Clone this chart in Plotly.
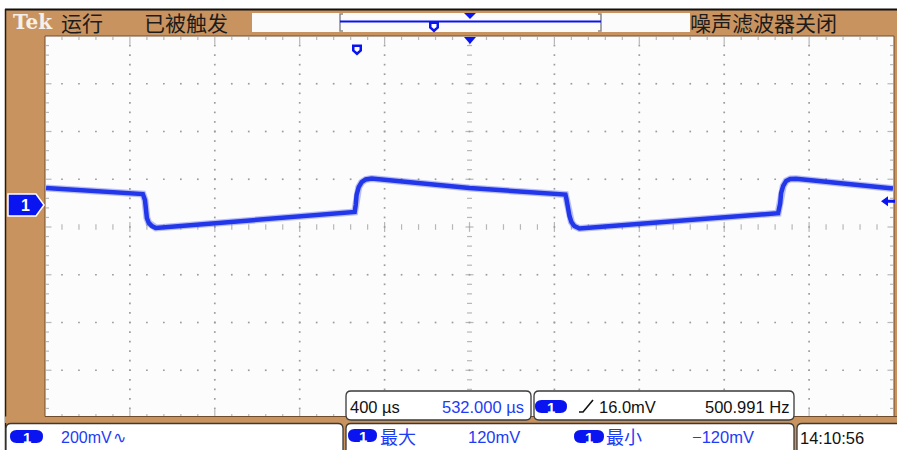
import numpy as np
import plotly.graph_objects as go

W, H = 897, 450

# ---- scope settings -------------------------------------------------------
T_PER_DIV_US = 400          # horizontal scale
V_PER_DIV_MV = 200          # CH1 vertical scale
CH1_POSITION_DIV = 0.46     # CH1 ground level above screen centre
TRIGGER_LEVEL_MV = 16.0

# ---- CH1 record (time relative to screen centre) ---------------------------
TIME_US = [-1995, -1544, -1539, -1529, -1525, -1520, -1511, -1496, -1478,
           -541, -536, -532, -522, -508, -489, -461, 0, 452, 456, 461, 471,
           480, 494, 518, 1454, 1464, 1468, 1478, 1492, 1511, 1539, 1995]
CH1_MV = [71, 50, 46, 21, -21, -54, -75, -88, -96,
          -29, 0, 42, 75, 96, 107, 111, 71, 44, 29, -8, -46,
          -71, -88, -98, -34, 8, 50, 80, 101, 109, 110, 69]

# ---- on-screen readouts ----------------------------------------------------
STATUS_TEXTS = ["运行", "已被触发", "噪声滤波器关闭"]
CH1_SCALE_TEXT = "200mV"
TIMEBASE_TEXT = "400 µs"
HPOS_TEXT = "532.000 µs"
TRIG_TEXT = "16.0mV"
FREQ_TEXT = "500.991 Hz"
MAX_LABEL, MAX_VALUE = "最大", "120mV"
MIN_LABEL, MIN_VALUE = "最小", "−120mV"
CLOCK_TEXT = "14:10:56"

BROWN = "#c9935f"
DARK_BROWN = "#6e4b2b"
BLUE = "#0a14f0"
TEXT_BLUE = "#1e3cf5"
TRACE_BLUE = "#2337ea"
GRID = "#9c9c9c"

# plot area in pixels
PX0, PX1, PY0, PY1 = 45, 894, 36, 418
PX_PER_DIV_X = (PX1 - PX0) / 10
PX_PER_DIV_Y = (PY1 - PY0) / 8


def X(px):
    return px / W


def Y(py):
    return 1 - py / H


def t_of(xd):
    return xd * T_PER_DIV_US


def v_of(yd):
    return (yd - CH1_POSITION_DIV) * V_PER_DIV_MV


def rrect_path(x0, y0, x1, y1, r):
    pts = [
        f"M{X(x0 + r)},{Y(y0)}", f"L{X(x1 - r)},{Y(y0)}",
        f"Q{X(x1)},{Y(y0)} {X(x1)},{Y(y0 + r)}", f"L{X(x1)},{Y(y1 - r)}",
        f"Q{X(x1)},{Y(y1)} {X(x1 - r)},{Y(y1)}", f"L{X(x0 + r)},{Y(y1)}",
        f"Q{X(x0)},{Y(y1)} {X(x0)},{Y(y1 - r)}", f"L{X(x0)},{Y(y0 + r)}",
        f"Q{X(x0)},{Y(y0)} {X(x0 + r)},{Y(y0)}", "Z",
    ]
    return " ".join(pts)


def poly_path(points, close=True):
    s = " ".join(("M" if i == 0 else "L") + f"{X(x)},{Y(y)}" for i, (x, y) in enumerate(points))
    return s + (" Z" if close else "")


shapes = []


def add_rect(x0, y0, x1, y1, fill, line=None, lw=0, layer="above"):
    shapes.append(dict(type="rect", xref="paper", yref="paper",
                       x0=X(x0), x1=X(x1), y0=Y(y1), y1=Y(y0),
                       fillcolor=fill, line=dict(color=line or fill, width=lw),
                       layer=layer))


def add_path(path, fill=None, line=None, lw=0, layer="above"):
    d = dict(type="path", xref="paper", yref="paper", path=path,
             line=dict(color=line or "rgba(0,0,0,0)", width=lw), layer=layer)
    if fill:
        d["fillcolor"] = fill
    shapes.append(d)


def add_line(x0, y0, x1, y1, color, lw, layer="above"):
    shapes.append(dict(type="line", xref="paper", yref="paper",
                       x0=X(x0), y0=Y(y0), x1=X(x1), y1=Y(y1),
                       line=dict(color=color, width=lw), layer=layer))


def position_marker(cx, top):
    # hollow "T" marker with a pointed bottom
    add_path(poly_path([(cx - 5, top), (cx + 5, top), (cx + 5, top + 6.5),
                        (cx, top + 11), (cx - 5, top + 6.5)]), fill=BLUE)
    add_path(poly_path([(cx - 2.5, top + 2.5), (cx + 2.5, top + 2.5), (cx + 2.5, top + 5.5),
                        (cx, top + 7.5), (cx - 2.5, top + 5.5)]), fill="white")


# ---- bezel / frame ----------------------------------------------------------
add_rect(5, 10, 897, 452, BROWN, layer="below")
add_rect(PX0, PY0, PX1, PY1, "#fcfcfc", DARK_BROWN, 1, layer="below")
add_line(5, 9.5, 897, 9.5, "#111111", 2)
add_line(5.5, 9, 5.5, 450, "#2a1a0a", 1.5)
add_rect(5, 416.5, 897, 423, BROWN)
add_line(PX0, 416.5, 897, 416.5, DARK_BROWN, 1)

# top status bar: record view
add_rect(252, 13, 690, 32, "#fbfbfb")
add_path(poly_path([(343, 14), (340, 14), (340, 31), (343, 31)], close=False), line="#8a8a8a", lw=1.5)
add_path(poly_path([(598, 14), (601, 14), (601, 31), (598, 31)], close=False), line="#8a8a8a", lw=1.5)
add_line(340, 21.5, 601, 21.5, BLUE, 2)
add_path(poly_path([(464, 13), (476, 13), (470, 19)]), fill=BLUE)
position_marker(434, 21.5)

# markers on the graticule
add_path(poly_path([(464, 37), (476, 37), (470, 44)]), fill=BLUE)
position_marker(357, 44.5)

# CH1 ground marker
gy = PY0 + (4 - CH1_POSITION_DIV) * PX_PER_DIV_Y
add_path(poly_path([(8, gy - 11), (36, gy - 11), (44, gy), (36, gy + 11), (8, gy + 11)]),
         fill=BLUE, line="white", lw=1.5)

# trigger level arrow on the right edge
ty = gy - TRIGGER_LEVEL_MV / V_PER_DIV_MV * PX_PER_DIV_Y
add_path(poly_path([(881, ty), (888, ty - 5), (888, ty - 1.5), (895, ty - 1.5),
                    (895, ty + 1.5), (888, ty + 1.5), (888, ty + 5)]), fill=BLUE)

# readout boxes
BOX_LINE = "#3a3a3a"
for (x0, y0, x1, y1) in [(6, 423.5, 343, 456), (346, 423.5, 794, 456),
                         (797, 423.5, 902, 456), (346, 391, 531, 420),
                         (534, 391, 794, 420)]:
    add_path(rrect_path(x0, y0, x1, y1, 5), fill="white", line=BOX_LINE, lw=1.3)

# channel pills
pills = [(10, 430, 43, 443), (348, 429, 377, 442), (574, 430, 604, 443), (535, 400, 567, 413)]
for (x0, y0, x1, y1) in pills:
    add_path(rrect_path(x0, y0, x1, y1, (y1 - y0) / 2), fill=BLUE)

# trigger slope glyph
add_path(poly_path([(579, 412), (583, 412), (593, 400)], close=False), line="#111111", lw=1.6)

# ---- annotations ----------------------------------------------------------
ann = []


def text(x, y, s, size, color, family="Liberation Sans", anchor="left", bold=False):
    ann.append(dict(x=X(x), y=Y(y), xref="paper", yref="paper", text=f"<b>{s}</b>" if bold else s,
                    showarrow=False, xanchor=anchor, yanchor="middle",
                    font=dict(size=size, color=color, family=family)))


CJK = "Noto Sans CJK SC"
text(11, 22, "Tek", 20, "#f4f0ea", family="DejaVu Serif", bold=True)
text(59, 22, STATUS_TEXTS[0], 21, "#1c1c1c", family=CJK)
text(142, 22, STATUS_TEXTS[1], 21, "#1c1c1c", family=CJK)
text(688, 22, STATUS_TEXTS[2], 21, "#1c1c1c", family=CJK)

text(25, gy, "1", 16, "white", bold=True, anchor="center")
for (x0, y0, x1, y1) in pills:
    text((x0 + x1) / 2, (y0 + y1) / 2 + 0.5, "1", 15, "white", bold=True, anchor="center")

text(59, 437, CH1_SCALE_TEXT, 16, TEXT_BLUE)
text(111, 437, "∿", 16, TEXT_BLUE, family="DejaVu Sans")
text(378, 436, MAX_LABEL, 18, TEXT_BLUE, family=CJK)
text(466, 437, MAX_VALUE, 16.5, TEXT_BLUE)
text(604, 436, MIN_LABEL, 18, TEXT_BLUE, family=CJK)
text(690, 437, MIN_VALUE, 16.5, TEXT_BLUE)
text(798, 438, CLOCK_TEXT, 16.5, "#111111")
text(348, 407, TIMEBASE_TEXT, 16.5, "#111111")
text(526, 407, HPOS_TEXT, 16.5, TEXT_BLUE, anchor="right")
text(597, 407, TRIG_TEXT, 16.5, "#111111")
text(791, 407, FREQ_TEXT, 16.5, "#111111", anchor="right")

# ---- graticule ------------------------------------------------------------
fig = go.Figure()

dots_x, dots_y = [], []
for yd in [-3, -2, -1, 1, 2, 3]:
    for j in range(1, 50):
        dots_x.append(t_of(-5 + j * 0.2))
        dots_y.append(v_of(yd))
for xd in [-4, -3, -2, -1, 1, 2, 3, 4]:
    for i in range(1, 40):
        dots_x.append(t_of(xd))
        dots_y.append(v_of(-4 + i * 0.2))
fig.add_trace(go.Scatter(x=dots_x, y=dots_y, mode="markers", hoverinfo="skip",
                         marker=dict(symbol="square", size=1.7, color=GRID)))

# vertical ticks: centre horizontal line and top / bottom edges
vt_x, vt_y, vt_s = [], [], []
for j in range(1, 50):
    xd = -5 + j * 0.2
    major = abs(xd - round(xd)) < 1e-6
    vt_x.append(t_of(xd)); vt_y.append(v_of(0)); vt_s.append(7 if major else 4)
    for edge, sgn in [(4, -1), (-4, 1)]:
        ln = 8 if major else 3.5
        vt_x.append(t_of(xd))
        vt_y.append(v_of(edge + sgn * (ln / 2 + 0.5) / PX_PER_DIV_Y))
        vt_s.append(ln / 1.4)
fig.add_trace(go.Scatter(x=vt_x, y=vt_y, mode="markers", hoverinfo="skip",
                         marker=dict(symbol="line-ns", size=vt_s,
                                     line=dict(color=GRID, width=1.2))))

# horizontal ticks: centre vertical line and left / right edges
ht_x, ht_y, ht_s = [], [], []
for i in range(1, 40):
    yd = -4 + i * 0.2
    major = abs(yd - round(yd)) < 1e-6
    ht_x.append(t_of(0)); ht_y.append(v_of(yd)); ht_s.append((8 if major else 5) / 1.4)
    for edge, sgn in [(-5, 1), (5, -1)]:
        ln = 6 if major else 3.5
        ht_x.append(t_of(edge + sgn * (ln / 2 + 0.5) / PX_PER_DIV_X))
        ht_y.append(v_of(yd))
        ht_s.append(ln / 1.4)
fig.add_trace(go.Scatter(x=ht_x, y=ht_y, mode="markers", hoverinfo="skip",
                         marker=dict(symbol="line-ew", size=ht_s,
                                     line=dict(color=GRID, width=1.2))))

# ---- CH1 waveform ---------------------------------------------------------
fig.add_trace(go.Scatter(x=TIME_US, y=CH1_MV, mode="lines", hoverinfo="skip",
                         line=dict(color=TRACE_BLUE, width=7), opacity=0.3))
fig.add_trace(go.Scatter(x=TIME_US, y=CH1_MV, mode="lines", name="CH1",
                         line=dict(color=TRACE_BLUE, width=4.5)))

fig.update_layout(
    width=W, height=H, margin=dict(l=0, r=0, t=0, b=0),
    paper_bgcolor="white", plot_bgcolor="rgba(0,0,0,0)",
    showlegend=False, shapes=shapes, annotations=ann,
    xaxis=dict(domain=[X(PX0), X(PX1)], range=[t_of(-5), t_of(5)],
               visible=False, fixedrange=True),
    yaxis=dict(domain=[Y(PY1), Y(PY0)], range=[v_of(-4), v_of(4)],
               visible=False, fixedrange=True),
)

fig.write_html("out.html")
